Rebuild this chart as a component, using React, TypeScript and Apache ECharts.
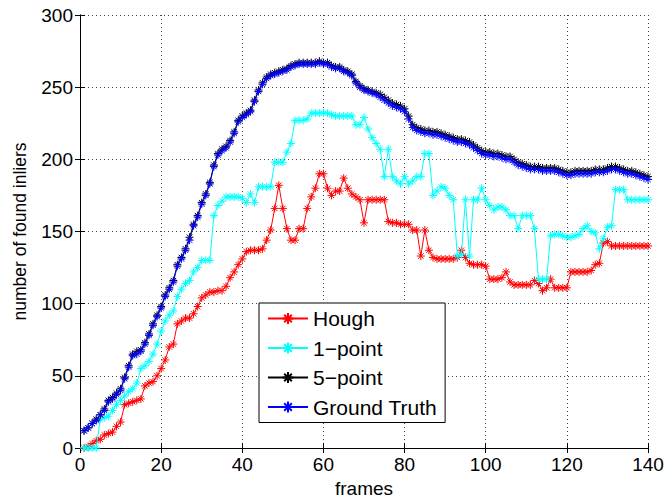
import React, { useEffect, useRef } from "react";
import * as echarts from "echarts";

const frames: number[] = Array.from({ length: 140 }, (_, i) => i + 1);

const hough: number[] = [
  0, 1, 3, 5, 6, 9, 10, 11, 15, 18,
  30, 31, 32, 33, 34, 43, 45, 46, 50, 55,
  61, 70, 72, 86, 88, 90, 90, 93, 98, 104,
  106, 108, 108, 109, 109, 112, 118, 122, 127, 131,
  136, 137, 137, 137, 138, 144, 151, 166, 182, 166,
  152, 144, 144, 152, 152, 166, 174, 180, 190, 190,
  180, 175, 178, 178, 187, 180, 176, 174, 172, 156,
  172, 172, 172, 172, 172, 157, 156, 156, 155, 155,
  155, 151, 151, 133, 151, 137, 132, 131, 131, 131,
  131, 131, 132, 137, 132, 128, 127, 127, 127, 126,
  117, 117, 117, 118, 122, 115, 113, 113, 113, 113,
  113, 116, 114, 109, 111, 117, 111, 111, 111, 111,
  122, 122, 122, 122, 122, 123, 127, 128, 142, 143,
  140, 140, 140, 140, 140, 140, 140, 140, 140, 140,
];

const onePoint: number[] = [
  0, 0, 0, 0, 20, 21, 22, 26, 30, 33,
  36, 39, 41, 45, 55, 57, 60, 65, 72, 81,
  88, 92, 95, 105, 110, 114, 116, 122, 125, 130,
  130, 130, 161, 168, 171, 174, 174, 174, 174, 173,
  170, 176, 170, 181, 181, 181, 181, 198, 198, 198,
  205, 211, 227, 227, 227, 228, 232, 232, 232, 232,
  232, 231, 230, 230, 230, 230, 230, 224, 224, 229,
  221, 215, 211, 207, 188, 207, 188, 185, 183, 188,
  183, 185, 188, 188, 204, 204, 175, 178, 181, 180,
  175, 172, 133, 134, 172, 133, 172, 172, 180, 172,
  168, 165, 167, 167, 165, 161, 161, 152, 161, 161,
  161, 152, 117, 117, 117, 147, 148, 148, 147, 146,
  146, 147, 148, 152, 154, 150, 149, 138, 145, 153,
  154, 179, 179, 179, 172, 172, 172, 172, 172, 172,
];

const fivePoint: number[] = [
  12, 14, 17, 20, 23, 27, 33, 35, 38, 41,
  49, 57, 65, 67, 68, 73, 79, 86, 92, 98,
  106, 111, 116, 127, 132, 138, 146, 155, 161, 170,
  176, 184, 196, 204, 207, 209, 213, 219, 227, 230,
  232, 234, 241, 248, 253, 257, 259, 260, 261, 262,
  263, 265, 266, 267, 267, 267, 267, 267, 268, 267,
  267, 265, 264, 264, 262, 261, 259, 254, 251, 249,
  248, 247, 246, 245, 243, 241, 239, 238, 237, 235,
  230, 224, 222, 221, 220, 220, 219, 219, 218, 217,
  216, 215, 214, 214, 213, 212, 210, 208, 206, 205,
  205, 204, 204, 203, 202, 202, 200, 198, 197, 196,
  195, 195, 195, 194, 194, 194, 194, 193, 192, 191,
  191, 192, 192, 192, 192, 192, 193, 193, 193, 194,
  195, 195, 194, 193, 192, 192, 191, 190, 189, 188,
];

const groundTruth: number[] = [
  12, 14, 17, 19, 23, 26, 32, 34, 37, 40,
  48, 56, 64, 65, 67, 72, 78, 85, 91, 97,
  105, 110, 115, 126, 131, 137, 144, 154, 160, 169,
  175, 183, 195, 203, 206, 208, 212, 218, 226, 229,
  231, 233, 240, 247, 252, 256, 258, 259, 260, 261,
  262, 264, 265, 266, 266, 266, 266, 266, 267, 266,
  266, 264, 263, 263, 261, 260, 258, 253, 250, 248,
  247, 246, 245, 243, 241, 239, 237, 236, 235, 233,
  228, 222, 220, 219, 218, 218, 217, 217, 216, 215,
  214, 213, 212, 212, 211, 210, 208, 206, 204, 203,
  203, 202, 202, 201, 200, 200, 198, 196, 195, 194,
  193, 193, 193, 192, 192, 192, 192, 191, 190, 189,
  189, 190, 190, 190, 190, 190, 191, 191, 191, 192,
  193, 193, 192, 191, 190, 190, 189, 188, 187, 186,
];

const xTicks: number[] = [0, 20, 40, 60, 80, 100, 120, 140];
const yTicks: number[] = [0, 50, 100, 150, 200, 250, 300];

const FONT = "'Liberation Sans', Arial, Helvetica, sans-serif";
const STAR = "path://M5,0L5,10M0,5L10,5M1.6,1.6L8.4,8.4M1.6,8.4L8.4,1.6";

function pairs(ys: number[]): [number, number][] {
  return ys.map((y, i) => [frames[i], y]);
}

function makeSeries(name: string, color: string, ys: number[], z: number) {
  return {
    name,
    type: "line",
    data: pairs(ys),
    z,
    symbol: STAR,
    symbolSize: 8,
    showSymbol: true,
    lineStyle: { color, width: 1 },
    itemStyle: { color, borderColor: color, borderWidth: 1 },
    emphasis: { disabled: true },
  };
}

export default function App() {
  const ref = useRef<HTMLDivElement | null>(null);
  useEffect(() => {
    if (!ref.current) return;
    const chart = echarts.init(ref.current, undefined, { renderer: "svg" });
    const axisCommon = {
      axisLine: { show: true, lineStyle: { color: "#000", width: 1 } },
      axisTick: { show: true, inside: true, length: 5, lineStyle: { color: "#000" } },
    };
    chart.setOption({
      animation: false,
      backgroundColor: "#fff",
      textStyle: { fontFamily: FONT },
      grid: {
        left: 80,
        right: 19,
        top: 15,
        bottom: 52,
        containLabel: false,
        outerBoundsMode: "none",
      },
      legend: {
        orient: "vertical",
        left: 259,
        top: 303,
        padding: [5, 8, 5, 8],
        itemWidth: 40,
        itemHeight: 14,
        itemGap: 8.5,
        backgroundColor: "#fff",
        borderColor: "#000",
        borderWidth: 1,
        borderRadius: 0,
        textStyle: { fontSize: 21, color: "#000", fontFamily: FONT, padding: [0, 0, 0, 0] },
        data: ["Hough", "1\u2212point", "5\u2212point", "Ground Truth"],
      },
      xAxis: [
        {
          type: "value",
          min: 0,
          max: 140,
          interval: 20,
          position: "bottom",
          ...axisCommon,
          axisLabel: {
            fontSize: 19,
            color: "#000",
            fontFamily: FONT,
            margin: 7,
            formatter: (v: number) => (xTicks.includes(v) ? String(v) : ""),
          },
          splitLine: { show: true, lineStyle: { color: "#444", type: [1, 3], width: 1 } },
          name: "frames",
          nameLocation: "middle",
          nameGap: 29,
          nameTextStyle: { fontSize: 19, color: "#000", fontFamily: FONT },
        },
        {
          type: "value",
          min: 0,
          max: 140,
          interval: 20,
          position: "top",
          ...axisCommon,
          axisLabel: { show: false },
          splitLine: { show: false },
        },
      ],
      yAxis: [
        {
          type: "value",
          min: 0,
          max: 300,
          interval: 50,
          position: "left",
          ...axisCommon,
          axisLabel: {
            fontSize: 19,
            color: "#000",
            fontFamily: FONT,
            margin: 7,
            formatter: (v: number) => (yTicks.includes(v) ? String(v) : ""),
          },
          splitLine: { show: true, lineStyle: { color: "#444", type: [1, 3], width: 1 } },
          name: "number of found inliers",
          nameLocation: "middle",
          nameGap: 51,
          nameTextStyle: { fontSize: 17.5, color: "#000", fontFamily: FONT },
        },
        {
          type: "value",
          min: 0,
          max: 300,
          interval: 50,
          position: "right",
          ...axisCommon,
          axisLabel: { show: false },
          splitLine: { show: false },
        },
      ],
      series: [
        makeSeries("Hough", "#ff0000", hough, 2),
        makeSeries("1\u2212point", "#00ffff", onePoint, 3),
        makeSeries("5\u2212point", "#000000", fivePoint, 4),
        makeSeries("Ground Truth", "#0000ff", groundTruth, 5),
      ],
    });
    return () => chart.dispose();
  }, []);
  return (
    <div
      ref={ref}
      style={{ position: "absolute", left: 0, top: 0, width: 667, height: 500, background: "#fff" }}
    />
  );
}
